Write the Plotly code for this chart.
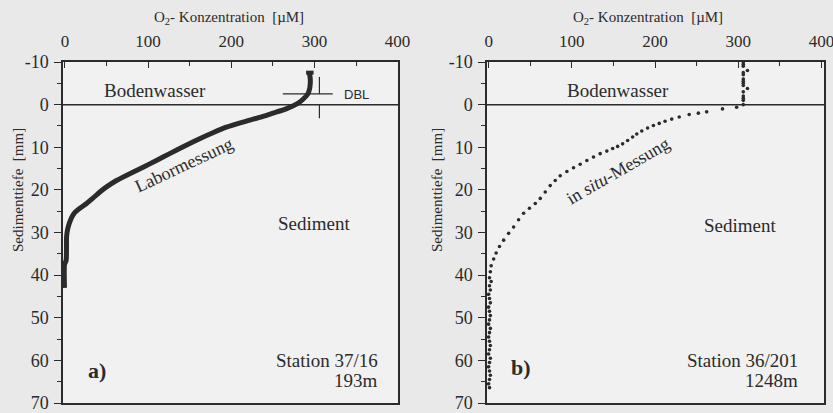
import plotly.graph_objects as go

# ---------------- data ----------------
# Panel a) Labormessung (O2 concentration [µM], depth [mm])
lab_o2 = [294, 295, 295, 294, 292, 286, 280, 266, 250, 234, 214, 194, 178, 162, 144, 126,
          110, 94, 78, 62, 50, 42, 34, 26, 18, 12, 8, 5, 3, 2, 1.5, -0.5, -0.5]
lab_depth = [-7.5, -6, -5, -3.5, -2.5, -1.2, -0.3, 1, 2, 3, 4.1, 5.3, 6.6, 8, 9.7, 11.5,
             13.1, 14.7, 16.2, 17.8, 19.3, 20.5, 21.9, 23.2, 24.3, 25.3, 26.5, 28, 29.5, 31,
             36.5, 37.5, 43]

# Panel b) in situ-Messung
situ_o2 = [306, 306, 311, 306, 306, 306, 306, 311, 306, 306, 306, 306, 306, 306, 306, 306,
           298, 281, 262, 252, 241, 229, 220, 212, 205, 198, 191, 184, 178, 173, 167, 161,
           155, 149, 142, 134, 126, 118, 110, 102, 94, 86, 80, 74, 68, 62, 56, 49, 42, 36,
           30, 24, 18, 13, 9, 6, 3, 2, 1, 3, 1, 2, 0, 1, 2, 0, 1, 2, 1, 0, 2, 1, 0, 1, 2,
           1, 0, 2, 1, 0, 1, 2, 1, 0, 1]
situ_depth = [-10, -9, -8, -7, -6, -5, -4.5, -3.8, -3, -2, -1, 0, -9.5, -7.5, -5.5, -1.5,
              0.6, 1.0, 1.7, 2.0, 2.3, 2.9, 3.4, 3.9, 4.4, 4.9, 5.5, 6.2, 6.9, 7.6, 8.4, 9.2,
              9.8, 10.3, 10.9, 11.5, 12.3, 13.1, 14.0, 14.8, 15.7, 16.7, 17.8, 19.0, 20.5, 22.0,
              23.2, 24.3, 25.5, 27.0, 28.7, 30.2, 31.8, 33.3, 34.8, 36.2, 37.8, 39.2, 40.6,
              41.5, 42.5, 43.5, 44.5, 45.5, 46.5, 47.5, 48.5, 49.5, 50.5, 51.5, 52.5, 53.5,
              54.5, 55.5, 56.5, 57.5, 58.5, 59.5, 60.5, 61.5, 62.5, 63.5, 64.5, 65.5, 66.4]

# DBL indicator (panel a)
dbl_h_x = [262, 322]
dbl_h_y = [-2.5, -2.5]
dbl_v_top_x = [306, 306]
dbl_v_top_y = [-6.5, -2.5]
dbl_v_bot_x = [306, 306]
dbl_v_bot_y = [0, 3.2]

x_ticks = [0, 100, 200, 300, 400]
y_ticks = [-10, 0, 10, 20, 30, 40, 50, 60, 70]
y_ticklabels = ["-10", "0", "10", "20", "30", "40", "50", "60", "70"]

# ---------------- figure ----------------
W, H = 833, 413
SERIF = "Liberation Serif"
INK = "#2b2b2b"

fig = go.Figure()

fig.add_trace(go.Scatter(x=lab_o2, y=lab_depth, mode="lines",
                         line=dict(color=INK, width=5, shape="spline", smoothing=0.6),
                         xaxis="x", yaxis="y", showlegend=False, hoverinfo="skip"))
fig.add_trace(go.Scatter(x=[290, 299], y=[-7.5, -7.5], mode="lines",
                         line=dict(color=INK, width=4), xaxis="x", yaxis="y",
                         showlegend=False, hoverinfo="skip"))
for xs, ys in [(dbl_h_x, dbl_h_y), (dbl_v_top_x, dbl_v_top_y), (dbl_v_bot_x, dbl_v_bot_y)]:
    fig.add_trace(go.Scatter(x=xs, y=ys, mode="lines", line=dict(color=INK, width=1.2),
                             xaxis="x", yaxis="y", showlegend=False, hoverinfo="skip"))

fig.add_trace(go.Scatter(x=situ_o2, y=situ_depth, mode="markers",
                         marker=dict(color=INK, size=3.6, symbol="circle"),
                         xaxis="x2", yaxis="y2", showlegend=False, hoverinfo="skip"))

def px_dom(a, b, total):
    return [a / total, b / total]

xdom1 = px_dom(63, 398, W)
xdom2 = px_dom(487, 824, W)
ydom = [1 - 403 / H, 1 - 62 / H]

xax = dict(side="top", range=[-2.3, 400.5], tickvals=x_ticks, ticks="inside", ticklen=6,
           tickwidth=1.2, tickcolor=INK, showline=True, linewidth=1.5, linecolor=INK,
           mirror=True, showgrid=False, zeroline=False, automargin=False,
           ticklabeloverflow="allow",
           minor=dict(dtick=50, ticks="inside", ticklen=4, tickcolor=INK, showgrid=False),
           tickfont=dict(family=SERIF, size=17, color=INK), ticklabelstandoff=6)
yax = dict(range=[70, -10], tickvals=y_ticks, ticktext=y_ticklabels, ticks="outside",
           ticklen=7, tickwidth=1.2, automargin=False, ticklabeloverflow="allow",
           tickcolor=INK, showline=True, linewidth=1.5, linecolor=INK, mirror=True,
           showgrid=False, zeroline=False,
           minor=dict(dtick=5, ticks="outside", ticklen=4, tickcolor=INK, showgrid=False),
           tickfont=dict(family=SERIF, size=18, color=INK), ticklabelstandoff=2)

fig.update_layout(
    width=W, height=H, margin=dict(l=0, r=0, t=0, b=0, autoexpand=False),
    paper_bgcolor="#e9e9e9", plot_bgcolor="#f1f1f1",
    xaxis=dict(xax, domain=xdom1, anchor="y"),
    yaxis=dict(yax, domain=ydom, anchor="x"),
    xaxis2=dict(xax, domain=xdom2, anchor="y2", range=[-2, 403]),
    yaxis2=dict(yax, domain=ydom, anchor="x2"),
)

# y=0 boundary lines
for xr, yr in [("x domain", "y"), ("x2 domain", "y2")]:
    fig.add_shape(type="line", xref=xr, yref=yr, x0=0, x1=1, y0=0, y1=0,
                  line=dict(color=INK, width=1.5))

def ann(text, x, y, xref, yref, size=19, xanchor="center", angle=0, family=SERIF, **kw):
    fig.add_annotation(text=text, x=x, y=y, xref=xref, yref=yref, showarrow=False,
                       xanchor=xanchor, yanchor="middle", textangle=angle,
                       font=dict(family=family, size=size, color=INK), **kw)

# axis titles
for cx in [229, 648]:
    ann("O<sub>2</sub>- Konzentration  [µM]", cx / W, 1 - 18 / H, "paper", "paper", size=15)
for cx in [18, 437]:
    ann("Sedimenttiefe  [mm]", cx / W, 1 - 190 / H, "paper", "paper", size=15, angle=-90)

# panel a
ann("Bodenwasser", 108, -3.4, "x", "y")
ann("Sediment", 299, 28, "x", "y")
ann("Station 37/16", 379, 60, "x", "y", xanchor="right")
ann("193m", 379, 64.7, "x", "y", xanchor="right")
ann("<b>a)</b>", 38, 62.3, "x", "y", size=22)
ann("Labormessung", 143, 14.2, "x", "y", size=18, angle=-25)
ann("DBL", 333, -2.4, "x", "y", size=13, xanchor="left", family="Liberation Sans")

# panel b
ann("Bodenwasser", 155, -3.4, "x2", "y2")
ann("Sediment", 302, 28.3, "x2", "y2")
ann("Station 36/201", 374, 60, "x2", "y2", xanchor="right")
ann("1248m", 374, 64.7, "x2", "y2", xanchor="right")
ann("<b>b)</b>", 39, 61.6, "x2", "y2", size=22)
ann("in <i>situ</i>-Messung", 155, 15.5, "x2", "y2", size=18, angle=-30)

fig.write_html("out.html", config={"displayModeBar": False},
               post_script="document.body.style.margin='0';document.body.style.overflow='hidden';")
